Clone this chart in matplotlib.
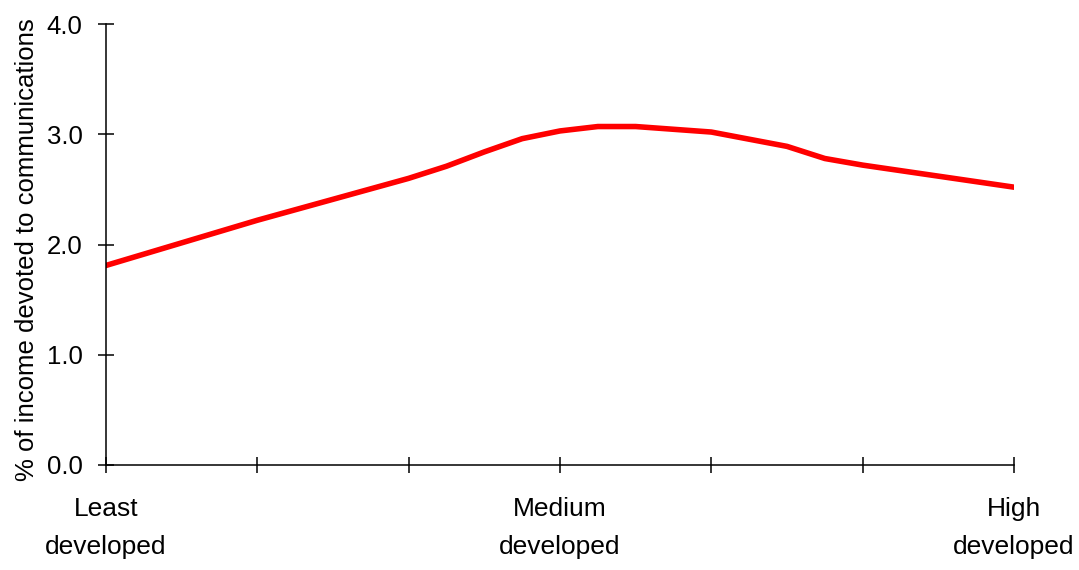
import matplotlib
matplotlib.use("Agg")
import matplotlib.pyplot as plt

# Development level positions (0 = least, 3 = medium, 6 = high developed)
dev_level = [0, 1, 2, 2.25, 2.5, 2.75, 3, 3.25, 3.5, 4, 4.5, 4.75, 5, 5.5, 6]
income_share = [1.81, 2.22, 2.60, 2.71, 2.84, 2.96, 3.03, 3.07, 3.07, 3.02,
                2.89, 2.78, 2.72, 2.62, 2.52]

x_ticks = [0, 1, 2, 3, 4, 5, 6]
x_tick_labels = ["Least\ndeveloped", "", "", "Medium\ndeveloped", "", "", "High\ndeveloped"]
y_ticks = [0.0, 1.0, 2.0, 3.0, 4.0]
y_label = "% of income devoted to communications"

plt.rcParams["font.family"] = ["Liberation Sans", "DejaVu Sans"]

fig = plt.figure(figsize=(10.79, 5.70), dpi=100)
ax = fig.add_axes([106 / 1079, 105 / 570, (1014 - 106) / 1079, (465 - 24) / 570])

ax.plot(dev_level, income_share, color="#ff0000", linewidth=4.0, solid_joinstyle="round")

ax.set_xlim(0, 6)
ax.set_ylim(0, 4)
ax.set_xticks(x_ticks)
ax.set_xticklabels(x_tick_labels, linespacing=1.75)
ax.set_yticks(y_ticks)
ax.set_yticklabels([f"{v:.1f}" for v in y_ticks])

for side in ("top", "right"):
    ax.spines[side].set_visible(False)
for side in ("left", "bottom"):
    ax.spines[side].set_linewidth(1.1)
    ax.spines[side].set_color("black")

ax.tick_params(axis="y", direction="inout", length=12, width=1.1, pad=11, labelsize=18.5)
ax.tick_params(axis="x", direction="inout", length=12, width=1.1, pad=17, labelsize=19)
ax.set_ylabel(y_label, fontsize=18.5)
ax.yaxis.set_label_coords(-0.074, 0.4875)

fig.savefig("out.png", dpi=100)
